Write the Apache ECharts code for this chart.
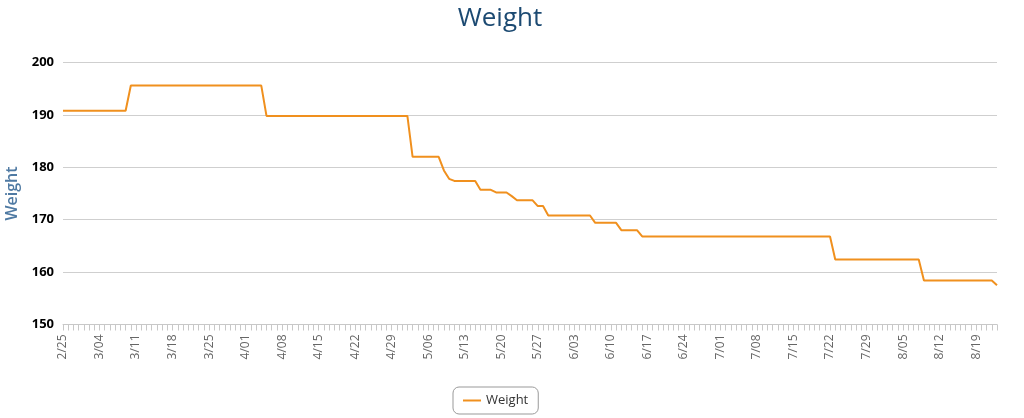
<!DOCTYPE html>
<html>
<head>
<meta charset="utf-8">
<script src="https://cdn.jsdelivr.net/npm/echarts@6/dist/echarts.min.js"></script>
<style>html,body{margin:0;padding:0;background:#fff}#c{width:1024px;height:418px}</style>
</head>
<body>
<div id="c"></div>
<script>
// Daily date categories from 2/25 to 8/23
const startMonth = 2, startDay = 25, dayCount = 180;
const monthLengths = [31, 28, 31, 30, 31, 30, 31, 31, 30, 31, 30, 31];
const categories = [];
(function () {
  let m = startMonth, d = startDay;
  for (let i = 0; i < dayCount; i++) {
    categories.push(m + '/' + String(d).padStart(2, '0'));
    d++;
    if (d > monthLengths[m - 1]) { d = 1; m++; }
  }
})();

const keyDates = ['2/25','3/09','3/10','4/04','4/05','5/02','5/03','5/08','5/09','5/10','5/11','5/15','5/16','5/18','5/19','5/21','5/22','5/23','5/26','5/27','5/28','5/29','6/06','6/07','6/11','6/12','6/15','6/16','7/22','7/23','8/08','8/09','8/22','8/23'];
const weights = [190.8,190.8,195.6,195.6,189.8,189.8,182.0,182.0,179.4,177.8,177.4,177.4,175.7,175.7,175.2,175.2,174.5,173.7,173.7,172.6,172.6,170.8,170.8,169.4,169.4,168.0,168.0,166.8,166.8,162.4,162.4,158.4,158.4,157.5];

const yTicks = [150, 160, 170, 180, 190, 200];

const chart = echarts.init(document.getElementById('c'));
chart.setOption({
  animation: false,
  title: {
    text: 'Weight',
    left: 495, top: 1, textAlign: 'center',
    textStyle: { fontFamily: 'Open Sans', fontSize: 26, fontWeight: 'normal', color: '#1c4a72' }
  },
  legend: {
    data: [{ name: 'Weight', icon: 'rect' }],
    left: 453, top: 387,
    itemWidth: 18, itemHeight: 2, itemGap: 6,
    padding: [7, 10],
    borderColor: '#999', borderWidth: 1, borderRadius: 6,
    textStyle: { fontFamily: 'Open Sans', fontSize: 13, color: '#333' }
  },
  grid: { left: 63, right: 27, top: 62.5, bottom: 93.5, containLabel: false, outerBoundsMode: 'none' },
  xAxis: {
    type: 'category',
    data: categories,
    boundaryGap: false,
    axisLine: { lineStyle: { color: '#c8c8c8' } },
    axisTick: { show: true, interval: 0, length: 6, lineStyle: { color: '#c8c8c8' } },
    axisLabel: {
      interval: 6, rotate: 90, margin: 10,
      fontFamily: 'Open Sans', fontSize: 12, color: '#666'
    },
    splitLine: { show: false }
  },
  yAxis: {
    type: 'value',
    min: yTicks[0], max: yTicks[yTicks.length - 1], interval: 10,
    name: 'Weight', nameLocation: 'middle', nameRotate: 90, nameGap: 41,
    nameTextStyle: { fontFamily: 'Open Sans', fontSize: 16, fontWeight: 600, color: '#4f7aa3' },
    axisLine: { show: false },
    axisTick: { show: false },
    axisLabel: { margin: 9, fontFamily: 'Open Sans', fontSize: 13, fontWeight: 'bold', color: '#000' },
    splitLine: { lineStyle: { color: '#cfcfcf', width: 1 } }
  },
  series: [{
    name: 'Weight',
    type: 'line',
    data: keyDates.map((d, i) => [d, weights[i]]),
    showSymbol: false,
    symbol: 'none',
    color: '#f0901e',
    lineStyle: { color: '#f0901e', width: 2 }
  }]
});
</script>
</body>
</html>
